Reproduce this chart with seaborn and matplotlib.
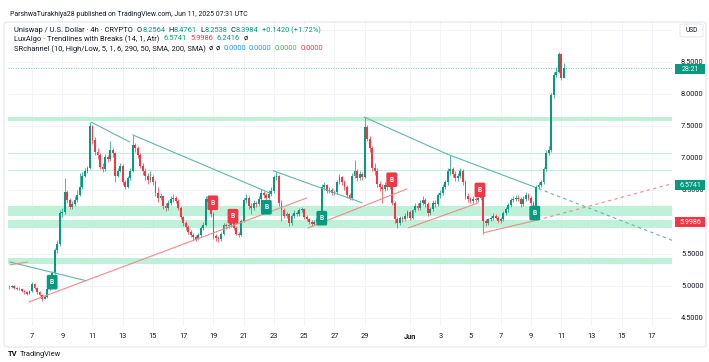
import numpy as np
import pandas as pd
import matplotlib
matplotlib.use("Agg")
import matplotlib.pyplot as plt
import matplotlib.dates as mdates
from matplotlib.patches import Rectangle, FancyBboxPatch
import seaborn as sns

sns.set_style("white")
plt.rcParams['font.family'] = ['Roboto', 'DejaVu Sans']

# ---- data (UNI/USD, 4h candles, 5 May 12:00 -> 11 Jun 04:00) ----
first_open = 4.99
close = [
    4.98, 5.00, 4.97,                          # May 5
    4.95, 4.96, 4.92, 4.90, 4.88, 4.92,        # May 6
    5.03, 4.97, 4.90, 4.86, 4.80, 4.83,        # May 7
    4.95, 5.05, 5.20, 5.56, 5.65, 6.14,        # May 8
    6.15, 6.47, 6.35, 6.24, 6.28, 6.35,        # May 9
    6.42, 6.55, 6.72, 6.80, 6.85, 7.50,        # May 10
    7.28, 7.10, 7.05, 6.86, 6.82, 7.02,        # May 11
    6.98, 7.12, 7.08, 6.72, 6.80, 6.88,        # May 12
    6.62, 6.55, 6.68, 6.80, 7.20, 7.15,        # May 13
    7.05, 6.88, 6.80, 6.72, 6.66, 6.70,        # May 14
    6.62, 6.45, 6.38, 6.40, 6.25, 6.22,        # May 15
    6.30, 6.36, 6.38, 6.33, 6.22, 6.08,        # May 16
    5.98, 5.92, 5.85, 5.80, 5.76, 5.74,        # May 17
    5.80, 5.90, 5.96, 6.36, 6.32, 6.12,        # May 18
    5.78, 5.75, 5.73, 5.82, 5.95, 5.93,        # May 19
    5.95, 6.00, 5.90, 5.82, 5.80, 6.02,        # May 20
    6.35, 6.38, 6.25, 6.22, 6.30, 6.28,        # May 21
    6.36, 6.45, 6.42, 6.38, 6.44, 6.48,        # May 22
    6.70, 6.72, 6.30, 6.18, 6.10, 6.12,        # May 23
    5.98, 6.10, 6.14, 6.12, 6.18, 6.20,        # May 24
    6.08, 6.04, 6.00, 5.97, 6.00, 6.05,        # May 25
    6.06, 6.55, 6.58, 6.48, 6.50, 6.45,        # May 26
    6.47, 6.62, 6.70, 6.62, 6.55, 6.42,        # May 27
    6.38, 6.72, 6.80, 6.68, 6.75, 6.70,        # May 28
    7.48, 7.30, 7.15, 6.85, 6.80, 6.60,        # May 29
    6.55, 6.52, 6.58, 6.55, 6.60, 6.30,        # May 30
    6.05, 5.98, 6.06, 6.04, 6.10, 6.16,        # May 31
    6.06, 6.18, 6.25, 6.22, 6.30, 6.34,        # Jun 1
    6.28, 6.14, 6.20, 6.30, 6.28, 6.42,        # Jun 2
    6.45, 6.55, 6.62, 6.80, 6.82, 6.75,        # Jun 3
    6.68, 6.72, 6.80, 6.62, 6.40, 6.36,        # Jun 4
    6.33, 6.36, 6.34, 6.38, 6.40, 6.02,        # Jun 5
    5.98, 6.04, 6.06, 6.10, 6.07, 6.02,        # Jun 6
    6.05, 6.14, 6.20, 6.26, 6.34, 6.36,        # Jun 7
    6.38, 6.36, 6.28, 6.36, 6.42, 6.38,        # Jun 8
    6.30, 6.24, 6.55, 6.58, 6.62, 6.82,        # Jun 9
    7.08, 7.12, 7.98, 8.30, 8.35, 8.62,        # Jun 10
    8.2564, 8.3984,                            # Jun 11
]
high = [
    5.01, 5.02, 5.01,
    4.98, 4.98, 4.97, 4.94, 4.92, 4.94,
    5.07, 5.04, 4.98, 4.92, 4.88, 4.86,
    4.97, 5.08, 5.24, 5.60, 5.72, 6.18,
    6.22, 6.68, 6.50, 6.38, 6.33, 6.40,
    6.50, 6.76, 6.78, 6.84, 6.88, 7.56,
    7.52, 7.32, 7.15, 7.08, 6.92, 7.06,
    7.05, 7.26, 7.15, 7.10, 6.84, 6.92,
    6.90, 6.66, 6.72, 6.84, 7.36, 7.24,
    7.18, 7.08, 6.92, 6.84, 6.76, 6.80,
    6.74, 6.65, 6.55, 6.45, 6.42, 6.30,
    6.34, 6.40, 6.43, 6.41, 6.36, 6.25,
    6.10, 6.02, 5.95, 5.88, 5.83, 5.79,
    5.83, 5.93, 6.00, 6.40, 6.38, 6.34,
    6.15, 5.82, 5.78, 5.85, 5.98, 5.98,
    5.98, 6.05, 6.03, 5.93, 5.85, 6.05,
    6.38, 6.44, 6.41, 6.30, 6.34, 6.33,
    6.40, 6.52, 6.48, 6.45, 6.50, 6.55,
    6.74, 6.78, 6.74, 6.34, 6.22, 6.16,
    6.14, 6.13, 6.18, 6.17, 6.22, 6.24,
    6.22, 6.11, 6.07, 6.03, 6.03, 6.08,
    6.09, 6.60, 6.63, 6.60, 6.54, 6.53,
    6.50, 6.66, 6.75, 6.72, 6.65, 6.58,
    6.45, 6.76, 6.97, 6.82, 6.80, 6.78,
    7.64, 7.52, 7.34, 7.18, 6.92, 6.84,
    6.64, 6.60, 6.62, 6.62, 6.64, 6.63,
    6.33, 6.08, 6.09, 6.10, 6.14, 6.19,
    6.19, 6.21, 6.30, 6.29, 6.34, 6.40,
    6.38, 6.32, 6.24, 6.34, 6.34, 6.46,
    6.50, 6.60, 6.66, 6.84, 7.05, 6.86,
    6.79, 6.76, 6.85, 6.83, 6.66, 6.45,
    6.39, 6.40, 6.39, 6.42, 6.46, 6.43,
    6.05, 6.07, 6.10, 6.14, 6.13, 6.10,
    6.08, 6.17, 6.24, 6.30, 6.38, 6.41,
    6.42, 6.42, 6.39, 6.40, 6.47, 6.45,
    6.40, 6.33, 6.58, 6.63, 6.66, 6.86,
    7.12, 7.18, 8.02, 8.34, 8.42, 8.66,
    8.64, 8.4761,
]
low = [
    4.96, 4.97, 4.95,
    4.93, 4.93, 4.90, 4.88, 4.86, 4.87,
    4.91, 4.95, 4.88, 4.84, 4.77, 4.79,
    4.82, 4.93, 5.03, 5.18, 5.52, 5.62,
    6.08, 6.12, 6.30, 6.20, 6.21, 6.25,
    6.32, 6.40, 6.52, 6.70, 6.76, 6.82,
    7.22, 7.05, 6.98, 6.82, 6.78, 6.80,
    6.94, 6.96, 7.02, 6.62, 6.70, 6.78,
    6.58, 6.52, 6.53, 6.65, 6.78, 7.10,
    7.00, 6.84, 6.74, 6.66, 6.60, 6.62,
    6.58, 6.40, 6.32, 6.34, 6.20, 6.17,
    6.19, 6.26, 6.32, 6.29, 6.18, 6.04,
    5.94, 5.88, 5.81, 5.76, 5.72, 5.70,
    5.72, 5.77, 5.87, 5.94, 6.28, 6.08,
    5.74, 5.70, 5.68, 5.71, 5.80, 5.89,
    5.90, 5.92, 5.87, 5.79, 5.76, 5.78,
    6.00, 6.30, 6.20, 6.12, 6.19, 6.24,
    6.25, 6.33, 6.38, 6.34, 6.36, 6.41,
    6.46, 6.66, 6.25, 6.02, 6.06, 6.07,
    5.94, 5.96, 6.06, 6.09, 6.09, 6.15,
    6.05, 6.01, 5.97, 5.94, 5.95, 5.98,
    6.01, 6.04, 6.50, 6.45, 6.45, 6.42,
    6.42, 6.44, 6.59, 6.58, 6.50, 6.38,
    6.34, 6.35, 6.68, 6.64, 6.65, 6.66,
    6.68, 7.26, 7.10, 6.80, 6.74, 6.55,
    6.48, 6.30, 6.49, 6.50, 6.52, 6.26,
    5.98, 5.90, 5.95, 6.00, 6.01, 6.07,
    6.03, 6.04, 6.15, 6.19, 6.19, 6.27,
    6.24, 6.10, 6.11, 6.17, 6.24, 6.25,
    6.38, 6.42, 6.52, 6.58, 6.74, 6.70,
    6.64, 6.64, 6.69, 6.58, 6.36, 6.31,
    6.29, 6.30, 6.31, 6.31, 6.34, 5.82,
    5.94, 5.95, 6.01, 6.03, 6.04, 5.98,
    5.99, 6.02, 6.11, 6.16, 6.23, 6.31,
    6.33, 6.33, 6.24, 6.25, 6.33, 6.34,
    6.27, 6.20, 6.22, 6.52, 6.55, 6.60,
    6.80, 7.05, 7.10, 7.94, 8.26, 8.32,
    8.22, 8.2538,
]

# support / resistance zones (SRchannel)
zone_lo = [7.57, 7.060, 6.790, 6.09, 5.90, 5.34]
zone_hi = [7.645, 7.078, 6.808, 6.25, 6.03, 5.43]

# LuxAlgo trendlines: start time, start price, end time, end price
teal_t0 = ["2025-05-10 22:00", "2025-05-13 16:00", "2025-05-22 23:00", "2025-05-28 23:00", "2025-06-03 11:00", "2025-05-05 13:00"]
teal_p0 = [7.56, 7.36, 6.80, 7.64, 7.06, 5.375]
teal_t1 = ["2025-05-13 11:00", "2025-05-22 18:00", "2025-05-28 20:00", "2025-06-03 11:00", "2025-06-09 02:00", "2025-05-10 15:00"]
teal_p1 = [7.25, 6.45, 6.30, 7.06, 6.56, 5.08]
red_t0 = ["2025-05-05 13:00", "2025-05-06 19:00", "2025-05-25 06:00", "2025-05-31 21:00", "2025-06-05 20:00"]
red_p0 = [5.33, 4.75, 5.906, 5.906, 5.83]
red_t1 = ["2025-05-06 17:00", "2025-05-25 04:00", "2025-05-31 19:00", "2025-06-05 12:00", "2025-06-09 10:00"]
red_p1 = [5.375, 6.375, 6.516, 6.297, 6.03]
# dashed extensions
ext_t0 = ["2025-06-09 02:00", "2025-06-09 10:00"]
ext_p0 = [6.56, 6.03]
ext_t1 = ["2025-06-18 09:00", "2025-06-18 09:00"]
ext_p1 = [5.71, 6.60]

# breakout labels
brk_t = ["2025-05-08 08:00", "2025-05-18 23:00", "2025-05-20 07:00", "2025-05-22 12:00",
         "2025-05-26 04:00", "2025-05-30 19:00", "2025-06-05 15:00", "2025-06-09 06:00"]
brk_p = [5.06, 6.30, 6.09, 6.23, 6.06, 6.66, 6.50, 6.14]
brk_up = [True, False, False, True, True, False, False, True]

date_ticks = ["2025-05-07", "2025-05-09", "2025-05-11", "2025-05-13", "2025-05-15", "2025-05-17",
              "2025-05-19", "2025-05-21", "2025-05-23", "2025-05-25", "2025-05-27", "2025-05-29",
              "2025-06-01", "2025-06-03", "2025-06-05", "2025-06-07", "2025-06-09", "2025-06-11",
              "2025-06-13", "2025-06-15", "2025-06-17"]
date_labels = ["7", "9", "11", "13", "15", "17", "19", "21", "23", "25", "27", "29",
               "Jun", "3", "5", "7", "9", "11", "13", "15", "17"]
price_ticks = [4.5, 5.0, 5.5, 6.0, 6.5, 7.0, 7.5, 8.0, 8.5, 9.0]
price_labels = ["4.5000", "5.0000", "5.5000", "", "6.5000", "7.0000", "7.5000", "8.0000", "8.5000", ""]

last_price = 8.3984
lux_up, lux_dn = 6.5741, 5.9986

UP = "#089981"
DN = "#f23645"
TEAL_LINE = "#5cb8aa"
RED_LINE = "#f28b8b"
ZONE = "#bff0d8"
TXT = "#131722"

assert len(close) == len(high) == len(low)

# ---- figure ----
W, H = 709, 362
fig = plt.figure(figsize=(W / 100, H / 100), dpi=100)
fig.patch.set_facecolor("white")


def fx(x):
    return x / W


def fy(y):
    return 1 - y / H


# outer frame
fig.patches.append(FancyBboxPatch((fx(4), fy(347)), fx(702), 325 / H,
                                  boxstyle="round,pad=0,rounding_size=0.006",
                                  transform=fig.transFigure, fc="none", ec="#e0e3eb", lw=0.7))

ax = fig.add_axes([fx(8), fy(326), fx(664), 305 / H])

base = mdates.date2num(pd.Timestamp("2025-05-07"))
ppd = 15.12
ax.set_xlim(base + (8 - 32) / ppd, base + (672 - 32) / ppd)
ax.set_ylim(4.375, 9.14)

# zones
for lo_, hi_ in zip(zone_lo, zone_hi):
    ax.axhspan(lo_, hi_, color=ZONE, lw=0, zorder=1)

# candles
times = pd.date_range("2025-05-05 12:00", periods=len(close), freq="4h")
xs = mdates.date2num(times)
c = np.array(close)
o = np.array([first_open] + close[:-1])
hi = np.maximum(np.array(high), np.maximum(o, c))
lo = np.minimum(np.array(low), np.minimum(o, c))
cols = np.where(c >= o, UP, DN)
body = c - o
body = np.where(np.abs(body) < 0.008, 0.008, body)
ax.vlines(xs, lo, hi, colors=cols, lw=0.5, zorder=3)
ax.bar(xs, body, bottom=o, width=0.12, color=cols, lw=0, zorder=4)

# trendlines (seaborn)
def seg_frame(t0, p0, t1, p1):
    rows = []
    for k in range(len(t0)):
        rows.append({"seg": k, "t": mdates.date2num(pd.Timestamp(t0[k])), "p": p0[k]})
        rows.append({"seg": k, "t": mdates.date2num(pd.Timestamp(t1[k])), "p": p1[k]})
    return pd.DataFrame(rows)

sns.lineplot(data=seg_frame(teal_t0, teal_p0, teal_t1, teal_p1), x="t", y="p", units="seg",
             estimator=None, sort=False, color=TEAL_LINE, lw=0.8, ax=ax, legend=False, zorder=5)
sns.lineplot(data=seg_frame(red_t0, red_p0, red_t1, red_p1), x="t", y="p", units="seg",
             estimator=None, sort=False, color=RED_LINE, lw=0.8, ax=ax, legend=False, zorder=5)
ext = seg_frame(ext_t0, ext_p0, ext_t1, ext_p1)
sns.lineplot(data=ext[ext.seg == 0], x="t", y="p", estimator=None, sort=False, color=TEAL_LINE,
             lw=0.8, ls=(0, (3, 3)), ax=ax, legend=False, zorder=5)
sns.lineplot(data=ext[ext.seg == 1], x="t", y="p", estimator=None, sort=False, color=RED_LINE,
             lw=0.8, ls=(0, (3, 3)), ax=ax, legend=False, zorder=5)

# current price line
ax.axhline(last_price, color=UP, lw=0.6, ls=(0, (1, 2)), alpha=0.7, zorder=2)

# breakout labels
for t, p, up in zip(brk_t, brk_p, brk_up):
    ax.text(mdates.date2num(pd.Timestamp(t)), p, "B", color="white", fontsize=4.8,
            fontweight="bold", ha="center", va="center", zorder=7,
            bbox=dict(boxstyle="round,pad=0.5,rounding_size=0.25", fc=UP if up else DN, ec="none"))

# axes styling
ax.set_xlabel("")
ax.set_ylabel("")
for s in ax.spines.values():
    s.set_visible(False)
ax.yaxis.tick_right()
ax.set_yticks(price_ticks)
ax.set_yticklabels(price_labels)
ax.set_xticks(mdates.date2num(pd.to_datetime(date_ticks)))
ax.set_xticklabels(date_labels)
ax.tick_params(axis="y", length=0, pad=6.5, labelsize=5.3, labelcolor=TXT)
ax.tick_params(axis="x", length=0, pad=5, labelsize=5.3, labelcolor=TXT)
for lab in ax.get_xticklabels():
    if lab.get_text() == "Jun":
        lab.set_fontweight("bold")
ax.grid(True, color="#f0f3fa", lw=0.6)
ax.set_axisbelow(True)

# right-hand price boxes
def price_box(p, text, fc):
    yy = ax.transData.transform((0, p))[1]
    ypx = H - yy
    fig.patches.append(Rectangle((fx(675), fy(ypx + 5)), fx(30), 10 / H, transform=fig.transFigure,
                                 fc=fc, ec="none", zorder=10))
    fig.text(fx(690), fy(ypx), text, color="white", fontsize=5.1, ha="center", va="center", zorder=11)

price_box(8.39, "28:21", UP)
price_box(lux_up, "6.5741", UP)
price_box(lux_dn, "5.9986", DN)

# USD box
fig.patches.append(FancyBboxPatch((fx(680), fy(37)), fx(23), 13 / H, boxstyle="round,pad=0,rounding_size=0.004",
                                  transform=fig.transFigure, fc="white", ec="#e0e3eb", lw=0.6, zorder=10))
fig.text(fx(691.5), fy(30.5), "USD", color=TXT, fontsize=4.8, ha="center", va="center", zorder=11)

# header + legend texts
fig.text(fx(10), fy(15), "ParshwaTurakhiya28 published on TradingView.com, Jun 11, 2025 07:31 UTC",
         color=TXT, fontsize=4.95, va="center")

renderer = fig.canvas.get_renderer()


def chain(y, pieces, x=14, size=5.4):
    for s, col, gap in pieces:
        txt = fig.text(fx(x), fy(y), s, color=col, fontsize=size, va="center", ha="left", zorder=12)
        x = txt.get_window_extent(renderer).x1 + gap


chain(30, [("Uniswap / U.S. Dollar · 4h · CRYPTO", TXT, 4), ("O", TXT, 0.3), ("8.2564", UP, 3),
           ("H", TXT, 0.3), ("8.4761", UP, 3), ("L", TXT, 0.3), ("8.2538", UP, 3),
           ("C", TXT, 0.3), ("8.3984", UP, 3.5), ("+0.1420 (+1.72%)", UP, 0)])
chain(39, [("LuxAlgo · Trendlines with Breaks (14, 1, Atr)", TXT, 4), ("6.5741", UP, 3.5),
           ("5.9986", DN, 3.5), ("6.2416", UP, 3.5), ("ø", TXT, 0)])
chain(49, [("SRchannel (10, High/Low, 5, 1, 6, 290, 50, SMA, 200, SMA)", TXT, 3), ("ø", TXT, 3),
           ("ø", TXT, 3), ("0.0000", "#2196f3", 3), ("0.0000", "#2196f3", 3),
           ("0.0000", "#4caf50", 3), ("0.0000", DN, 0)])

# logo
fig.text(fx(8), fy(354), "TV", color=TXT, fontsize=5.5, fontweight="bold", va="center")
fig.text(fx(20), fy(354), "TradingView", color=TXT, fontsize=5.3, va="center")

fig.savefig("out.png", dpi=100)
